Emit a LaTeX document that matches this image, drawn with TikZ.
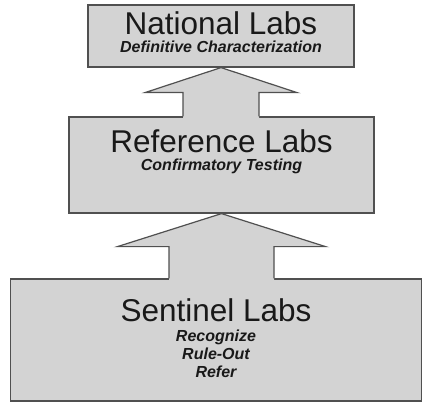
\documentclass[tikz,border=0pt]{standalone}
\usepackage{fontspec}
\setmainfont{Liberation Sans}
\usetikzlibrary{positioning,calc}

\definecolor{labgray}{RGB}{211,211,211}
\definecolor{labline}{RGB}{80,80,80}
\definecolor{labtext}{RGB}{25,25,25}

\tikzset{
  labbox/.style={draw=labline, fill=labgray, line width=1.2pt, inner sep=0pt},
  labtitle/.style={anchor=base, inner sep=0pt, text=labtext, font=\fontsize{31.5}{33}\selectfont},
  labsub/.style={anchor=base, inner sep=0pt, text=labtext, align=center, font=\fontsize{16}{18}\selectfont\bfseries\itshape},
  arrowfill/.style={fill=labgray},
  arrowline/.style={draw=labline, line width=1.2pt, line join=miter}
}

\begin{document}
\begin{tikzpicture}[x=1pt, y=-1pt]
    \useasboundingbox (0,0) rectangle (422,403);

    % the three tiers
    \node[labbox, minimum width=266pt, minimum height=62pt] (national) at (221,36) {};
    \node[labbox, minimum width=305pt, minimum height=96pt] (reference) at (221.5,165) {};
    \node[labbox, minimum width=411pt, minimum height=122pt] (sentinel) at (216,340) {};

    % block arrows between tiers
    \foreach \up/\low/\hw/\sw/\hl in {national/reference/76/38/25, reference/sentinel/104/52.5/33} {
        \coordinate (tip) at (\up.south);
        \coordinate (hl) at ($(tip)+(-\hw,\hl)$);
        \coordinate (hr) at ($(tip)+(\hw,\hl)$);
        \coordinate (sl) at ($(tip)+(-\sw,\hl)$);
        \coordinate (sr) at ($(tip)+(\sw,\hl)$);
        \fill[arrowfill] ($(sl |- \low.north)+(0,1.5)$) -- (sl) -- (hl) -- (tip) -- (hr) -- (sr) -- ($(sr |- \low.north)+(0,1.5)$) -- cycle;
        \draw[arrowline] (sl |- \low.north) -- (sl) -- (hl) -- (tip) -- (hr) -- (sr) -- (sr |- \low.north);
    }

    % labels
    \node[labtitle] (nattitle) at ([yshift=-30pt]national.north) {National Labs};
    \node[labsub] (natsub) at ([yshift=-48pt]national.north) {Definitive Characterization};

    \node[labtitle] (reftitle) at ([yshift=-36pt]reference.north) {Reference Labs};
    \node[labsub] (refsub) at ([yshift=-54pt]reference.north) {Confirmatory Testing};

    \node[labtitle] (sentitle) at ([yshift=-43pt]sentinel.north) {Sentinel Labs};
    \node[labsub, anchor=north] (sensub) at ([yshift=-51pt]sentinel.north) {Recognize\\Rule-Out\\Refer};
\end{tikzpicture}
\end{document}
